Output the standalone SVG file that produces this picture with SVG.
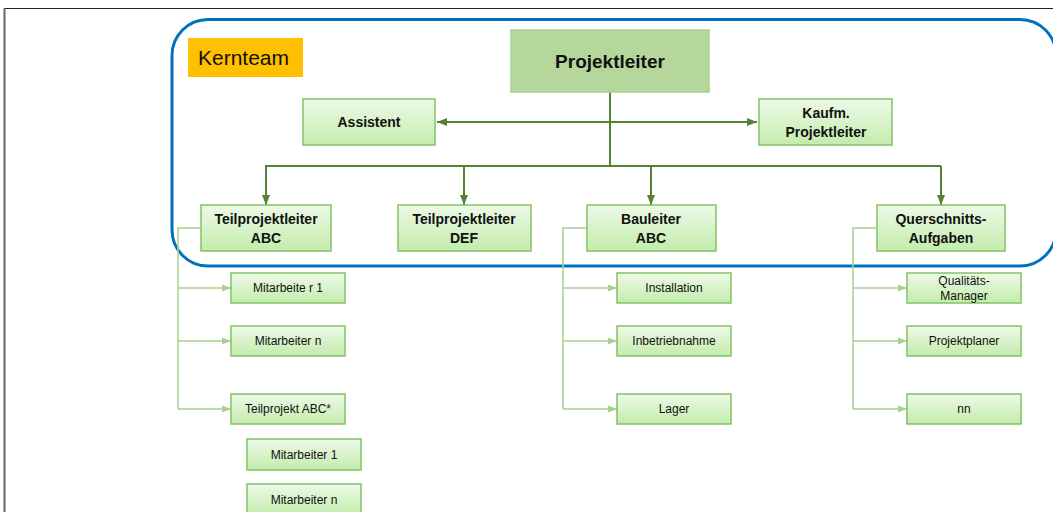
<svg xmlns="http://www.w3.org/2000/svg" width="1053" height="512" viewBox="0 0 1053 512">
  <defs>
    <linearGradient id="boxFill" x1="0" y1="0" x2="0" y2="1">
      <stop offset="0" stop-color="#EEF9E8"/>
      <stop offset="1" stop-color="#C3ECAC"/>
    </linearGradient>
    <marker id="arrDark" markerUnits="userSpaceOnUse" markerWidth="11" markerHeight="9" refX="10" refY="4.5" orient="auto-start-reverse">
      <path d="M0,0.5 L10,4.5 L0,8.5 z" fill="#548235"/>
    </marker>
    <marker id="arrLight" markerUnits="userSpaceOnUse" markerWidth="10" markerHeight="8" refX="9" refY="4" orient="auto">
      <path d="M0,0.5 L9,4 L0,7.5 z" fill="#A9D18E"/>
    </marker>
    <style>
      .box { fill: url(#boxFill); stroke: #82C265; stroke-width: 1.5; }
      .lbl { font-family: "Liberation Sans", Arial, sans-serif; fill: #111; text-anchor: middle; }
      .b14 { font-size: 14px; font-weight: bold; }
      .r12 { font-size: 12px; }
      .dark { fill: none; stroke: #548235; stroke-width: 2; }
      .light { fill: none; stroke: #A9D18E; stroke-width: 1.5; }
    </style>
  </defs>

  <rect width="1053" height="512" fill="#FFFFFF"/>
  <!-- page frame -->
  <line x1="4" y1="8.5" x2="1053" y2="8.5" stroke="#222" stroke-width="1"/>
  <line x1="4.5" y1="8" x2="4.5" y2="512" stroke="#666" stroke-width="2"/>

  <!-- core team outline -->
  <rect id="kernteam-frame" x="172" y="19.5" width="884" height="246.5" rx="36" ry="36" fill="none" stroke="#0070C0" stroke-width="3"/>
  <g id="kernteam">
    <rect x="188" y="38" width="115" height="39" fill="#FFC000"/>
    <text x="198" y="65" font-family="'Liberation Sans', Arial, sans-serif" font-size="21" fill="#111">Kernteam</text>
  </g>

  <!-- connectors -->
  <g id="connectors">
    <line class="dark" x1="610" y1="92" x2="610" y2="166"/>
    <line class="dark" x1="437" y1="122" x2="757" y2="122" marker-start="url(#arrDark)" marker-end="url(#arrDark)"/>
    <line class="dark" x1="265" y1="166" x2="941" y2="166"/>
    <line class="dark" x1="266" y1="166" x2="266" y2="205" marker-end="url(#arrDark)"/>
    <line class="dark" x1="464" y1="166" x2="464" y2="205" marker-end="url(#arrDark)"/>
    <line class="dark" x1="651" y1="166" x2="651" y2="205" marker-end="url(#arrDark)"/>
    <line class="dark" x1="941" y1="166" x2="941" y2="205" marker-end="url(#arrDark)"/>

    <path class="light" d="M201,228 H178 V409"/>
    <line class="light" x1="178" y1="288" x2="231" y2="288" marker-end="url(#arrLight)"/>
    <line class="light" x1="178" y1="341" x2="231" y2="341" marker-end="url(#arrLight)"/>
    <line class="light" x1="178" y1="409" x2="231" y2="409" marker-end="url(#arrLight)"/>

    <path class="light" d="M587,228 H563 V409"/>
    <line class="light" x1="563" y1="288" x2="617" y2="288" marker-end="url(#arrLight)"/>
    <line class="light" x1="563" y1="341" x2="617" y2="341" marker-end="url(#arrLight)"/>
    <line class="light" x1="563" y1="409" x2="617" y2="409" marker-end="url(#arrLight)"/>

    <path class="light" d="M877,228 H853 V409"/>
    <line class="light" x1="853" y1="288" x2="907" y2="288" marker-end="url(#arrLight)"/>
    <line class="light" x1="853" y1="341" x2="907" y2="341" marker-end="url(#arrLight)"/>
    <line class="light" x1="853" y1="409" x2="907" y2="409" marker-end="url(#arrLight)"/>
  </g>

  <!-- top level -->
  <g id="projektleiter">
    <rect x="511" y="30" width="198" height="62" fill="#B6D79C" stroke="#A9D18E" stroke-width="1.5"/>
    <text class="lbl" x="610" y="68" font-size="19" font-weight="bold">Projektleiter</text>
  </g>
  <g id="assistent">
    <rect class="box" x="303" y="99" width="132" height="46"/>
    <text class="lbl b14" x="369" y="127">Assistent</text>
  </g>
  <g id="kaufm-projektleiter">
    <rect class="box" x="759" y="99" width="133" height="46"/>
    <text class="lbl b14" x="826" y="118">Kaufm.</text>
    <text class="lbl b14" x="826" y="137">Projektleiter</text>
  </g>

  <!-- second level -->
  <g id="tpl-abc">
    <rect class="box" x="201" y="205" width="130" height="46"/>
    <text class="lbl b14" x="266" y="224">Teilprojektleiter</text>
    <text class="lbl b14" x="266" y="243">ABC</text>
  </g>
  <g id="tpl-def">
    <rect class="box" x="398" y="205" width="133" height="46"/>
    <text class="lbl b14" x="464" y="224">Teilprojektleiter</text>
    <text class="lbl b14" x="464" y="243">DEF</text>
  </g>
  <g id="bauleiter-abc">
    <rect class="box" x="587" y="205" width="129" height="46"/>
    <text class="lbl b14" x="651" y="224">Bauleiter</text>
    <text class="lbl b14" x="651" y="243">ABC</text>
  </g>
  <g id="querschnitt">
    <rect class="box" x="877" y="205" width="128" height="46"/>
    <text class="lbl b14" x="941" y="224">Querschnitts-</text>
    <text class="lbl b14" x="941" y="243">Aufgaben</text>
  </g>

  <!-- staff of Teilprojektleiter ABC -->
  <g id="mitarbeiter-r1">
    <rect class="box" x="231" y="273" width="114" height="30"/>
    <text class="lbl r12" x="288" y="292">Mitarbeite r 1</text>
  </g>
  <g id="mitarbeiter-n-a">
    <rect class="box" x="231" y="326" width="114" height="30"/>
    <text class="lbl r12" x="288" y="345">Mitarbeiter n</text>
  </g>
  <g id="teilprojekt-abc">
    <rect class="box" x="231" y="394" width="114" height="30"/>
    <text class="lbl r12" x="288" y="413">Teilprojekt ABC*</text>
  </g>
  <g id="mitarbeiter-1-b">
    <rect class="box" x="247" y="439" width="114" height="31"/>
    <text class="lbl r12" x="304" y="459">Mitarbeiter 1</text>
  </g>
  <g id="mitarbeiter-n-b">
    <rect class="box" x="247" y="484" width="114" height="31"/>
    <text class="lbl r12" x="304" y="504">Mitarbeiter n</text>
  </g>

  <!-- staff of Bauleiter ABC -->
  <g id="installation">
    <rect class="box" x="617" y="273" width="114" height="30"/>
    <text class="lbl r12" x="674" y="292">Installation</text>
  </g>
  <g id="inbetriebnahme">
    <rect class="box" x="617" y="326" width="114" height="30"/>
    <text class="lbl r12" x="674" y="345">Inbetriebnahme</text>
  </g>
  <g id="lager">
    <rect class="box" x="617" y="394" width="114" height="30"/>
    <text class="lbl r12" x="674" y="413">Lager</text>
  </g>

  <!-- cross-section tasks -->
  <g id="qualitaetsmanager">
    <rect class="box" x="907" y="273" width="114" height="30"/>
    <text class="lbl r12" x="964" y="285">Qualitäts-</text>
    <text class="lbl r12" x="964" y="300">Manager</text>
  </g>
  <g id="projektplaner">
    <rect class="box" x="907" y="326" width="114" height="30"/>
    <text class="lbl r12" x="964" y="345">Projektplaner</text>
  </g>
  <g id="nn">
    <rect class="box" x="907" y="394" width="114" height="30"/>
    <text class="lbl r12" x="964" y="413">nn</text>
  </g>
</svg>
